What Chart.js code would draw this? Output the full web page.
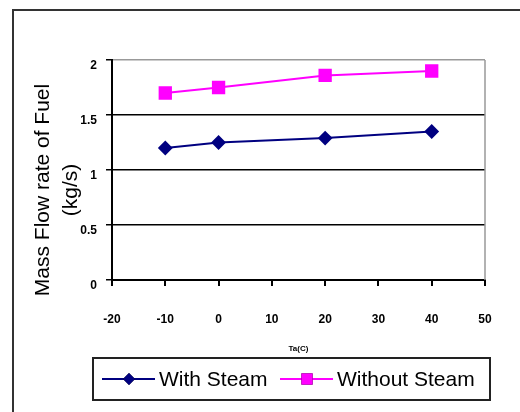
<!DOCTYPE html>
<html>
<head>
<meta charset="utf-8">
<script src="https://cdn.jsdelivr.net/npm/chart.js@4/dist/chart.umd.min.js"></script>
<style>
    html, body { margin: 0; padding: 0; background: #fff; }
    canvas { display: block; }
</style>
</head>
<body>
<canvas id="chart" width="520" height="412"></canvas>
<script>
// Ambient temperature (C) on the x axis
const temps = [-10, 0, 20, 40];
// Mass flow rate of fuel (kg/s)
const withSteam = [1.2, 1.25, 1.29, 1.35];
const withoutSteam = [1.7, 1.75, 1.86, 1.9];

const seriesLabels = ['With Steam', 'Without Steam'];
const yTitle = ['Mass Flow rate of Fuel', '(kg/s)'];
const xTitle = 'Ta(C)';

const FONT = '"Liberation Sans", Arial, sans-serif';

function toPoints(xs, ys) {
    return xs.map((x, i) => ({ x: x, y: ys[i] }));
}

// white background, outer frame, right plot border, y title and boxed legend
const decorations = {
    id: 'decorations',
    beforeDraw(chart) {
        const ctx = chart.ctx;
        ctx.save();
        ctx.fillStyle = '#fff';
        ctx.fillRect(0, 0, chart.width, chart.height);
        ctx.strokeStyle = '#333';
        ctx.lineWidth = 2;
        ctx.beginPath();
        ctx.moveTo(13, chart.height);
        ctx.lineTo(13, 10);
        ctx.lineTo(chart.width, 10);
        ctx.stroke();
        ctx.restore();
    },
    afterDraw(chart) {
        const ctx = chart.ctx;
        const area = chart.chartArea;
        ctx.save();

        // grey right edge of the plot area
        ctx.strokeStyle = '#999';
        ctx.lineWidth = 1.5;
        ctx.beginPath();
        ctx.moveTo(area.right, area.top);
        ctx.lineTo(area.right, area.bottom);
        ctx.stroke();

        // y axis title, two lines
        ctx.fillStyle = '#000';
        ctx.font = '21px ' + FONT;
        ctx.textAlign = 'center';
        ctx.textBaseline = 'middle';
        ctx.translate(0, 190);
        ctx.rotate(-Math.PI / 2);
        ctx.fillText(yTitle[0], 0, 43);
        ctx.fillText(yTitle[1], 0, 71);
        ctx.restore();

        // legend box
        ctx.save();
        ctx.strokeStyle = '#222';
        ctx.lineWidth = 2;
        ctx.strokeRect(93, 358, 397, 42);
        const cy = 379;
        const starts = [102, 280];
        chart.data.datasets.forEach((ds, i) => {
            const x0 = starts[i];
            ctx.strokeStyle = ds.borderColor;
            ctx.lineWidth = 2;
            ctx.beginPath();
            ctx.moveTo(x0, cy);
            ctx.lineTo(x0 + 53, cy);
            ctx.stroke();
            Chart.helpers.drawPoint(ctx, {
                pointStyle: ds.pointStyle,
                radius: ds.pointRadius,
                borderWidth: 0
            }, x0 + 27, cy);
            ctx.fillStyle = ds.pointBackgroundColor;
            ctx.fill();
            ctx.fillStyle = '#000';
            ctx.font = '21px ' + FONT;
            ctx.textAlign = 'left';
            ctx.textBaseline = 'middle';
            ctx.fillText(ds.label, x0 + 57, cy + 1);
        });
        ctx.restore();
    }
};

const ctx = document.getElementById('chart').getContext('2d');
new Chart(ctx, {
    type: 'line',
    data: {
        datasets: [{
            label: seriesLabels[0],
            data: toPoints(temps, withSteam),
            borderColor: '#000080',
            backgroundColor: '#000080',
            pointBackgroundColor: '#000080',
            pointBorderColor: '#000080',
            pointStyle: 'rectRot',
            pointRadius: 6,
            borderWidth: 2,
            tension: 0
        }, {
            label: seriesLabels[1],
            data: toPoints(temps, withoutSteam),
            borderColor: '#ff00ff',
            backgroundColor: '#ff00ff',
            pointBackgroundColor: '#ff00ff',
            pointBorderColor: '#ff00ff',
            pointStyle: 'rect',
            pointRadius: 8,
            borderWidth: 2,
            tension: 0
        }]
    },
    options: {
        responsive: false,
        animation: false,
        devicePixelRatio: 1,
        layout: { padding: { left: 0, top: 60, right: 35, bottom: 0 } },
        plugins: {
            legend: { display: false },
            tooltip: { enabled: false }
        },
        scales: {
            x: {
                type: 'linear',
                min: -20,
                max: 50,
                afterFit: (scale) => { scale.height = 132; },
                ticks: {
                    stepSize: 10,
                    color: '#000',
                    padding: 26,
                    maxRotation: 0,
                    font: { family: FONT, size: 12, weight: 'bold' }
                },
                grid: {
                    drawOnChartArea: false,
                    drawTicks: true,
                    tickLength: 6,
                    color: '#000',
                    lineWidth: 2
                },
                border: { color: '#000', width: 2 },
                title: {
                    display: true,
                    text: xTitle,
                    color: '#000',
                    font: { family: FONT, size: 8, weight: 'bold' },
                    padding: { top: 0, bottom: 58 }
                }
            },
            y: {
                min: 0,
                max: 2,
                afterFit: (scale) => { scale.width = 112; },
                ticks: {
                    stepSize: 0.5,
                    color: '#000',
                    padding: 9,
                    labelOffset: 6,
                    callback: (v) => String(v),
                    font: { family: FONT, size: 12, weight: 'bold' }
                },
                grid: {
                    drawTicks: true,
                    tickLength: 6,
                    color: (c) => (c.tick && c.tick.value === 2) ? '#999' : '#000',
                    tickColor: '#000',
                    lineWidth: 1.5
                },
                border: { color: '#000', width: 2 }
            }
        }
    },
    plugins: [decorations]
});
</script>
</body>
</html>
